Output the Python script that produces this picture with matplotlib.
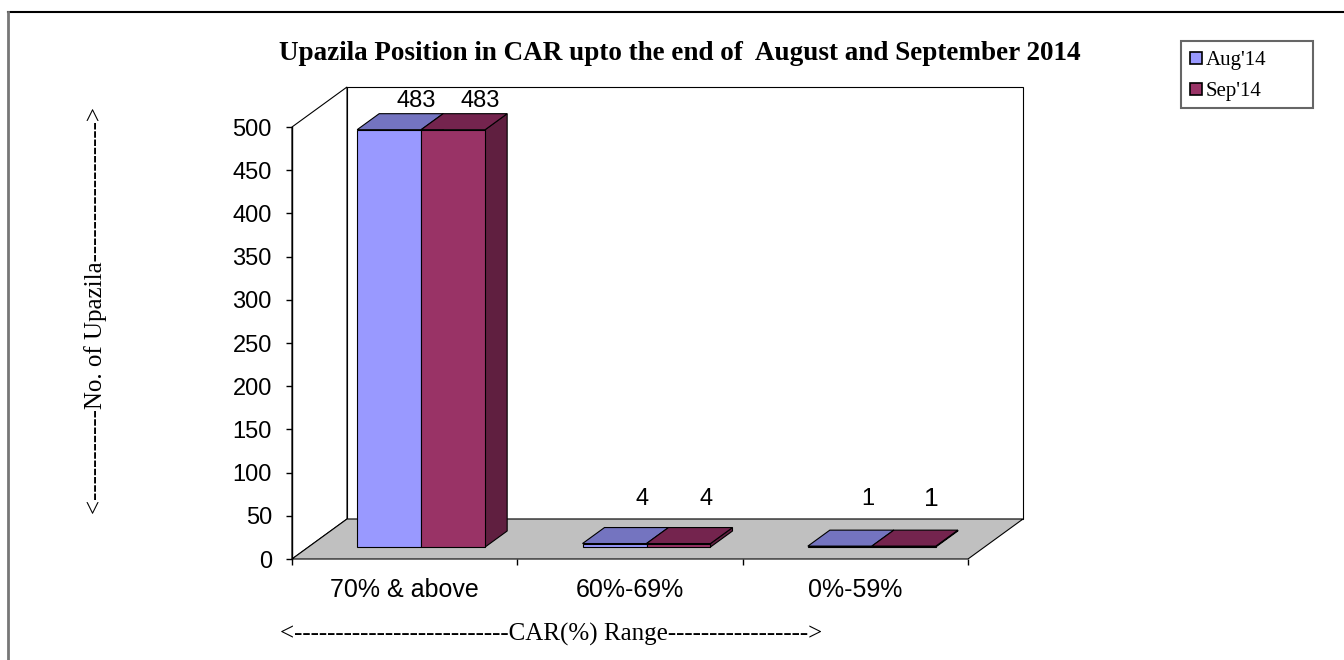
import matplotlib
matplotlib.use('Agg')
import matplotlib.pyplot as plt
from matplotlib.patches import Polygon, Rectangle
from matplotlib.lines import Line2D
from matplotlib.transforms import IdentityTransform
import numpy as np

# data
categories = ['70% & above', '60%-69%', '0%-59%']
series_names = ["Aug'14", "Sep'14"]
aug = [483, 4, 1]
sep = [483, 4, 1]
yticks = [0, 50, 100, 150, 200, 250, 300, 350, 400, 450, 500]

front_col = ['#9999FF', '#993366']
top_col = ['#7474C0', '#74244E']
side_col = ['#5C5C99', '#601F40']

DX, DY = 55.0, 40.0     # pixel shift for full depth
bw = 0.284              # bar width (category units)
d0, d1 = 0.3, 0.7       # bar depth range

fig = plt.figure(figsize=(13.44, 6.6), dpi=100)
W, H = 1344., 660.
ax = fig.add_axes([292/W, (H-559)/H, 676/W, 432/H])
ax.set_xlim(-0.5, 2.5)
ax.set_ylim(0, 500)
ax.patch.set_visible(False)
for s in ax.spines.values():
    s.set_visible(False)

def proj(x, y, d):
    px, py = ax.transData.transform((x, y))
    return (px + d*DX, py + d*DY)

def poly(pts, fc, ec='black', lw=0.8, z=1):
    p = Polygon(pts, closed=True, facecolor=fc, edgecolor=ec, lw=lw,
                transform=IdentityTransform(), clip_on=False, zorder=z)
    ax.add_patch(p)

def line(pts, z=3, lw=1.0):
    xs = [p[0] for p in pts]
    ys = [p[1] for p in pts]
    ax.add_line(Line2D(xs, ys, color='black', lw=lw, transform=IdentityTransform(),
                       clip_on=False, zorder=z))

x0, x1 = -0.5, 2.5
# back wall, left wall, floor
poly([proj(x0, 0, 1), proj(x1, 0, 1), proj(x1, 500, 1), proj(x0, 500, 1)], 'white', z=1)
poly([proj(x0, 0, 0), proj(x0, 0, 1), proj(x0, 500, 1), proj(x0, 500, 0)], 'white', z=1)
poly([proj(x0, 0, 0), proj(x1, 0, 0), proj(x1, 0, 1), proj(x0, 0, 1)], '#C0C0C0', z=2)
line([proj(x0, 0, 0), proj(x0, 500, 0)], z=3)

# bars
xc = np.arange(len(categories))
vals = [aug, sep]
for i in range(len(categories)):
    for k in range(2):
        v = vals[k][i]
        a = xc[i] - bw + k*bw
        b = a + bw
        poly([proj(b, 0, d0), proj(b, 0, d1), proj(b, v, d1), proj(b, v, d0)], side_col[k], z=4)
        poly([proj(a, v, d0), proj(b, v, d0), proj(b, v, d1), proj(a, v, d1)], top_col[k], z=4)
        poly([proj(a, 0, d0), proj(b, 0, d0), proj(b, v, d0), proj(a, v, d0)], front_col[k], z=4)
        lx = proj((a + b)/2, 0, 0.8)[0]
        ly = proj(0, max(v, 22), d1)[1]
        fs = 19 if (i == 2 and k == 1) else 17
        ax.text(lx, ly + 13, str(v), transform=IdentityTransform(), ha='center', va='center',
                fontsize=fs, family='Liberation Sans', zorder=6)

# ticks
ax.set_yticks(yticks)
ax.set_yticklabels([str(t) for t in yticks], family='Liberation Sans', fontsize=17)
ax.tick_params(axis='y', direction='out', length=4.5, width=1, pad=10, right=False)
ax.set_xticks(xc)
ax.set_xticklabels(categories, family='Liberation Sans', fontsize=18)
ax.set_xticks([-0.5, 0.5, 1.5, 2.5], minor=True)
ax.tick_params(axis='x', which='major', length=0, pad=14)
ax.tick_params(axis='x', which='minor', direction='out', length=4.5, width=1)

# titles
fig.text(680/W, 1 - 53/H, 'Upazila Position in CAR upto the end of  August and September 2014',
         ha='center', va='center', fontsize=19.5, fontweight='bold', family='Liberation Serif')
fig.text(96/W, 1 - 310/H, '<-----------No. of Upazila----------------->', rotation=90,
         ha='center', va='center', fontsize=18, family='Liberation Serif')
fig.text(551/W, 1 - 634/H, '<--------------------------CAR(%) Range----------------->',
         ha='center', va='center', fontsize=18, family='Liberation Serif')

# legend
handles = [Line2D([], [], marker='s', ls='', markersize=9, markerfacecolor=front_col[k],
                  markeredgecolor='black', markeredgewidth=1.2) for k in range(2)]
fig.legend(handles, series_names, loc='upper left', bbox_to_anchor=(1182/W, 1 - 44/H),
           prop={'family': 'Liberation Serif', 'size': 15}, frameon=False,
           handlelength=0.7, handletextpad=0.15, borderpad=0.3, labelspacing=0.55,
           borderaxespad=0)
fig.add_artist(Rectangle((1181/W, 1 - 108/H), 132/W, 67/H, transform=fig.transFigure,
                         facecolor='none', edgecolor='#666666', lw=1.5))

# outer frame
fig.add_artist(Line2D([8/W, 1], [1 - 12/H, 1 - 12/H], color='black', lw=1.5, transform=fig.transFigure))
fig.add_artist(Line2D([8/W, 8/W], [0, 1 - 12/H], color='#777777', lw=2, transform=fig.transFigure))

fig.savefig('out.png', dpi=100)
